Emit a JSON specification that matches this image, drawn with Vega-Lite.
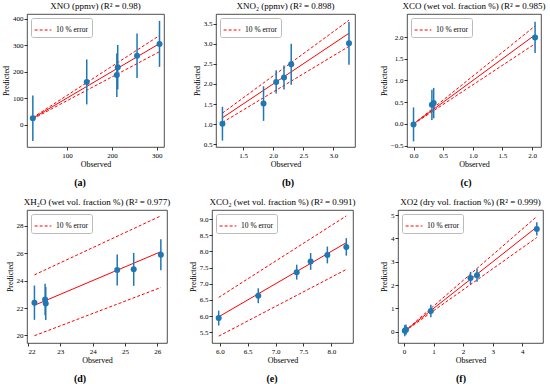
{
  "$schema": "https://vega.github.io/schema/vega-lite/v6.json",
  "padding": {"left": 2, "top": 1, "right": 2, "bottom": 0},
  "spacing": 9,
  "resolve": {"scale": {"color": "independent"}, "legend": {"color": "independent"}},
  "config": {
    "font": "Liberation Serif",
    "view": {"stroke": "#222", "strokeWidth": 0.8},
    "axis": {"grid": false, "domain": false, "tickColor": "#000", "tickSize": 3, "tickWidth": 0.8, "labelFontSize": 7, "labelColor": "#000", "titleFontSize": 8, "titleFontWeight": "normal", "titleColor": "#000", "labelPadding": 1, "titlePadding": 2, "labelFont": "Liberation Serif", "titleFont": "Liberation Serif"},
    "title": {"font": "Liberation Serif", "fontSize": 9, "fontWeight": "normal", "color": "#000", "offset": 3, "frame": "group"},
    "legend": {"orient": "top-left", "offset": 4, "padding": 3, "fillColor": "white", "strokeColor": "#bbb", "cornerRadius": 2, "symbolType": "stroke", "symbolDash": [3, 2], "symbolStrokeWidth": 1, "symbolSize": 280, "labelFont": "Liberation Serif", "labelFontSize": 7.5, "labelColor": "#000", "title": null}
  },
  "vconcat": [
    {
      "hconcat": [
        {
          "width": 137, "height": 133,
          "title": {"text": "XNO (ppmv) (R² = 0.98)"},
          "data": {"values": [
            {"s": "up", "obs": 24, "y": 26.4}, {"s": "up", "obs": 306, "y": 336.6},
            {"s": "lo", "obs": 24, "y": 21.6}, {"s": "lo", "obs": 306, "y": 275.4},
            {"s": "fit", "obs": 24, "y": 24}, {"s": "fit", "obs": 306, "y": 306},
            {"s": "pt", "obs": 24, "y": 24, "err": 86},
            {"s": "pt", "obs": 144, "y": 161, "err": 85},
            {"s": "pt", "obs": 211, "y": 187, "err": 83},
            {"s": "pt", "obs": 213, "y": 217, "err": 84},
            {"s": "pt", "obs": 256, "y": 260, "err": 84},
            {"s": "pt", "obs": 306, "y": 305, "err": 87}
          ]},
          "encoding": {
            "x": {"field": "obs", "type": "quantitative", "title": "Observed", "scale": {"domain": [11, 316], "nice": false, "zero": false}, "axis": {"values": [100, 200, 300]}},
            "y": {"field": "y", "type": "quantitative", "title": "Predicted", "scale": {"domain": [-85, 418], "nice": false, "zero": false}, "axis": {"values": [0, 100, 200, 300, 400]}}
          },
          "layer": [
            {"transform": [{"filter": "datum.s === 'up' || datum.s === 'lo'"}], "mark": {"type": "line", "strokeDash": [3, 2], "strokeWidth": 1}, "encoding": {"detail": {"field": "s"}, "color": {"datum": "10 % error", "scale": {"domain": ["10 % error"], "range": ["#ff0000"]}}}},
            {"transform": [{"filter": "datum.s === 'fit'"}], "mark": {"type": "line", "color": "#ff0000", "strokeWidth": 1}},
            {"transform": [{"filter": "datum.s === 'pt'"}], "mark": {"type": "errorbar", "color": "#1f77b4", "thickness": 1.5}, "encoding": {"yError": {"field": "err"}}},
            {"transform": [{"filter": "datum.s === 'pt'"}], "mark": {"type": "point", "filled": true, "color": "#1f77b4", "size": 36, "opacity": 1}}
          ]
        },
        {
          "width": 139, "height": 133,
          "title": {"text": "XNO₂ (ppmv) (R² = 0.898)"},
          "data": {"values": [
            {"s": "up", "obs": 1.157, "y": 1.273}, {"s": "up", "obs": 3.26, "y": 3.586},
            {"s": "lo", "obs": 1.157, "y": 1.041}, {"s": "lo", "obs": 3.26, "y": 2.934},
            {"s": "fit", "obs": 1.157, "y": 1.157}, {"s": "fit", "obs": 3.26, "y": 3.26},
            {"s": "pt", "obs": 1.157, "y": 1.01, "err": 0.42},
            {"s": "pt", "obs": 1.84, "y": 1.51, "err": 0.43},
            {"s": "pt", "obs": 2.05, "y": 2.05, "err": 0.29},
            {"s": "pt", "obs": 2.18, "y": 2.16, "err": 0.3},
            {"s": "pt", "obs": 2.3, "y": 2.49, "err": 0.51},
            {"s": "pt", "obs": 3.26, "y": 3.01, "err": 0.53}
          ]},
          "encoding": {
            "x": {"field": "obs", "type": "quantitative", "title": "Observed", "scale": {"domain": [1.05, 3.36], "nice": false, "zero": false}, "axis": {"values": [1.5, 2, 2.5, 3], "format": ".1f"}},
            "y": {"field": "y", "type": "quantitative", "title": "Predicted", "scale": {"domain": [0.43, 3.74], "nice": false, "zero": false}, "axis": {"values": [0.5, 1, 1.5, 2, 2.5, 3, 3.5], "format": ".1f"}}
          },
          "layer": [
            {"transform": [{"filter": "datum.s === 'up' || datum.s === 'lo'"}], "mark": {"type": "line", "strokeDash": [3, 2], "strokeWidth": 1}, "encoding": {"detail": {"field": "s"}, "color": {"datum": "10 % error", "scale": {"domain": ["10 % error"], "range": ["#ff0000"]}}}},
            {"transform": [{"filter": "datum.s === 'fit'"}], "mark": {"type": "line", "color": "#ff0000", "strokeWidth": 1}},
            {"transform": [{"filter": "datum.s === 'pt'"}], "mark": {"type": "errorbar", "color": "#1f77b4", "thickness": 1.5}, "encoding": {"yError": {"field": "err"}}},
            {"transform": [{"filter": "datum.s === 'pt'"}], "mark": {"type": "point", "filled": true, "color": "#1f77b4", "size": 36, "opacity": 1}}
          ]
        },
        {
          "width": 134, "height": 133,
          "title": {"text": "XCO (wet vol. fraction %) (R² = 0.985)"},
          "data": {"values": [
            {"s": "up", "obs": 0, "y": 0}, {"s": "up", "obs": 2.05, "y": 2.255},
            {"s": "lo", "obs": 0, "y": 0}, {"s": "lo", "obs": 2.05, "y": 1.845},
            {"s": "fit", "obs": 0, "y": 0}, {"s": "fit", "obs": 2.05, "y": 2.05},
            {"s": "pt", "obs": 0, "y": -0.01, "err": 0.39},
            {"s": "pt", "obs": 0.31, "y": 0.44, "err": 0.35},
            {"s": "pt", "obs": 0.34, "y": 0.48, "err": 0.35},
            {"s": "pt", "obs": 2.05, "y": 1.99, "err": 0.36}
          ]},
          "encoding": {
            "x": {"field": "obs", "type": "quantitative", "title": "Observed", "scale": {"domain": [-0.11, 2.15], "nice": false, "zero": false}, "axis": {"values": [0, 0.5, 1, 1.5, 2], "format": ".1f"}},
            "y": {"field": "y", "type": "quantitative", "title": "Predicted", "scale": {"domain": [-0.53, 2.53], "nice": false, "zero": false}, "axis": {"values": [-0.5, 0, 0.5, 1, 1.5, 2], "format": ".1f"}}
          },
          "layer": [
            {"transform": [{"filter": "datum.s === 'up' || datum.s === 'lo'"}], "mark": {"type": "line", "strokeDash": [3, 2], "strokeWidth": 1}, "encoding": {"detail": {"field": "s"}, "color": {"datum": "10 % error", "scale": {"domain": ["10 % error"], "range": ["#ff0000"]}}}},
            {"transform": [{"filter": "datum.s === 'fit'"}], "mark": {"type": "line", "color": "#ff0000", "strokeWidth": 1}},
            {"transform": [{"filter": "datum.s === 'pt'"}], "mark": {"type": "errorbar", "color": "#1f77b4", "thickness": 1.5}, "encoding": {"yError": {"field": "err"}}},
            {"transform": [{"filter": "datum.s === 'pt'"}], "mark": {"type": "point", "filled": true, "color": "#1f77b4", "size": 36, "opacity": 1}}
          ]
        }
      ],
      "spacing": 52,
      "bounds": "flush",
      "resolve": {"scale": {"color": "independent"}, "legend": {"color": "independent"}}
    },
    {
      "hconcat": [
        {"width": 106, "height": 10, "view": {"stroke": null}, "data": {"values": [{"label": "(a)"}]}, "mark": {"type": "text", "fontSize": 10, "fontWeight": "bold", "font": "Liberation Serif", "color": "#000"}, "encoding": {"text": {"field": "label"}}},
        {"width": 290, "height": 10, "view": {"stroke": null}, "data": {"values": [{"label": "(b)"}]}, "mark": {"type": "text", "fontSize": 10, "fontWeight": "bold", "font": "Liberation Serif", "color": "#000"}, "encoding": {"text": {"field": "label"}}},
        {"width": 46, "height": 10, "view": {"stroke": null}, "data": {"values": [{"label": "(c)"}]}, "mark": {"type": "text", "fontSize": 10, "fontWeight": "bold", "font": "Liberation Serif", "color": "#000"}, "encoding": {"text": {"field": "label"}}}
      ],
      "spacing": 10,
      "bounds": "flush"
    },
    {
      "hconcat": [
        {
          "width": 140, "height": 133,
          "title": {"text": "XH₂O (wet vol. fraction %) (R² = 0.977)"},
          "data": {"values": [
            {"s": "up", "obs": 22.2, "y": 24.42}, {"s": "up", "obs": 26.11, "y": 28.72},
            {"s": "lo", "obs": 22.2, "y": 19.98}, {"s": "lo", "obs": 26.11, "y": 23.5},
            {"s": "fit", "obs": 22.2, "y": 22.2}, {"s": "fit", "obs": 26.11, "y": 26.11},
            {"s": "pt", "obs": 22.2, "y": 22.39, "err": 1.25},
            {"s": "pt", "obs": 22.53, "y": 22.62, "err": 1.15},
            {"s": "pt", "obs": 22.55, "y": 22.33, "err": 1.2},
            {"s": "pt", "obs": 24.76, "y": 24.78, "err": 1.13},
            {"s": "pt", "obs": 25.27, "y": 24.82, "err": 1.2},
            {"s": "pt", "obs": 26.11, "y": 25.88, "err": 1.13}
          ]},
          "encoding": {
            "x": {"field": "obs", "type": "quantitative", "title": "Observed", "scale": {"domain": [21.97, 26.3], "nice": false, "zero": false}, "axis": {"values": [22, 23, 24, 25, 26]}},
            "y": {"field": "y", "type": "quantitative", "title": "Predicted", "scale": {"domain": [19.45, 29.15], "nice": false, "zero": false}, "axis": {"values": [20, 22, 24, 26, 28]}}
          },
          "layer": [
            {"transform": [{"filter": "datum.s === 'up' || datum.s === 'lo'"}], "mark": {"type": "line", "strokeDash": [3, 2], "strokeWidth": 1}, "encoding": {"detail": {"field": "s"}, "color": {"datum": "10 % error", "scale": {"domain": ["10 % error"], "range": ["#ff0000"]}}}},
            {"transform": [{"filter": "datum.s === 'fit'"}], "mark": {"type": "line", "color": "#ff0000", "strokeWidth": 1}},
            {"transform": [{"filter": "datum.s === 'pt'"}], "mark": {"type": "errorbar", "color": "#1f77b4", "thickness": 1.5}, "encoding": {"yError": {"field": "err"}}},
            {"transform": [{"filter": "datum.s === 'pt'"}], "mark": {"type": "point", "filled": true, "color": "#1f77b4", "size": 36, "opacity": 1}}
          ]
        },
        {
          "width": 141, "height": 133,
          "title": {"text": "XCO₂ (wet vol. fraction %) (R² = 0.991)"},
          "data": {"values": [
            {"s": "up", "obs": 5.98, "y": 6.578}, {"s": "up", "obs": 8.27, "y": 9.097},
            {"s": "lo", "obs": 5.98, "y": 5.382}, {"s": "lo", "obs": 8.27, "y": 7.443},
            {"s": "fit", "obs": 5.98, "y": 5.98}, {"s": "fit", "obs": 8.27, "y": 8.27},
            {"s": "pt", "obs": 5.98, "y": 5.94, "err": 0.23},
            {"s": "pt", "obs": 6.69, "y": 6.63, "err": 0.23},
            {"s": "pt", "obs": 7.38, "y": 7.36, "err": 0.23},
            {"s": "pt", "obs": 7.63, "y": 7.69, "err": 0.26},
            {"s": "pt", "obs": 7.93, "y": 7.89, "err": 0.26},
            {"s": "pt", "obs": 8.27, "y": 8.14, "err": 0.27}
          ]},
          "encoding": {
            "x": {"field": "obs", "type": "quantitative", "title": "Observed", "scale": {"domain": [5.86, 8.39], "nice": false, "zero": false}, "axis": {"values": [6, 6.5, 7, 7.5, 8], "format": ".1f"}},
            "y": {"field": "y", "type": "quantitative", "title": "Predicted", "scale": {"domain": [5.17, 9.28], "nice": false, "zero": false}, "axis": {"values": [5.5, 6, 6.5, 7, 7.5, 8, 8.5, 9], "format": ".1f"}}
          },
          "layer": [
            {"transform": [{"filter": "datum.s === 'up' || datum.s === 'lo'"}], "mark": {"type": "line", "strokeDash": [3, 2], "strokeWidth": 1}, "encoding": {"detail": {"field": "s"}, "color": {"datum": "10 % error", "scale": {"domain": ["10 % error"], "range": ["#ff0000"]}}}},
            {"transform": [{"filter": "datum.s === 'fit'"}], "mark": {"type": "line", "color": "#ff0000", "strokeWidth": 1}},
            {"transform": [{"filter": "datum.s === 'pt'"}], "mark": {"type": "errorbar", "color": "#1f77b4", "thickness": 1.5}, "encoding": {"yError": {"field": "err"}}},
            {"transform": [{"filter": "datum.s === 'pt'"}], "mark": {"type": "point", "filled": true, "color": "#1f77b4", "size": 36, "opacity": 1}}
          ]
        },
        {
          "width": 145, "height": 133,
          "title": {"text": "XO2 (dry vol. fraction %) (R² = 0.999)"},
          "data": {"values": [
            {"s": "up", "obs": 0.03, "y": 0.033}, {"s": "up", "obs": 4.49, "y": 4.939},
            {"s": "lo", "obs": 0.03, "y": 0.027}, {"s": "lo", "obs": 4.49, "y": 4.041},
            {"s": "fit", "obs": 0.03, "y": 0.03}, {"s": "fit", "obs": 4.49, "y": 4.49},
            {"s": "pt", "obs": 0.03, "y": 0.05, "err": 0.24},
            {"s": "pt", "obs": 0.07, "y": 0.09, "err": 0.22},
            {"s": "pt", "obs": 0.91, "y": 0.89, "err": 0.27},
            {"s": "pt", "obs": 2.25, "y": 2.31, "err": 0.26},
            {"s": "pt", "obs": 2.47, "y": 2.42, "err": 0.28},
            {"s": "pt", "obs": 4.49, "y": 4.41, "err": 0.28}
          ]},
          "encoding": {
            "x": {"field": "obs", "type": "quantitative", "title": "Observed", "scale": {"domain": [-0.2, 4.7], "nice": false, "zero": false}, "axis": {"values": [0, 1, 2, 3, 4]}},
            "y": {"field": "y", "type": "quantitative", "title": "Predicted", "scale": {"domain": [-0.48, 5.22], "nice": false, "zero": false}, "axis": {"values": [0, 1, 2, 3, 4, 5]}}
          },
          "layer": [
            {"transform": [{"filter": "datum.s === 'up' || datum.s === 'lo'"}], "mark": {"type": "line", "strokeDash": [3, 2], "strokeWidth": 1}, "encoding": {"detail": {"field": "s"}, "color": {"datum": "10 % error", "scale": {"domain": ["10 % error"], "range": ["#ff0000"]}}}},
            {"transform": [{"filter": "datum.s === 'fit'"}], "mark": {"type": "line", "color": "#ff0000", "strokeWidth": 1}},
            {"transform": [{"filter": "datum.s === 'pt'"}], "mark": {"type": "errorbar", "color": "#1f77b4", "thickness": 1.5}, "encoding": {"yError": {"field": "err"}}},
            {"transform": [{"filter": "datum.s === 'pt'"}], "mark": {"type": "point", "filled": true, "color": "#1f77b4", "size": 36, "opacity": 1}}
          ]
        }
      ],
      "spacing": 45,
      "bounds": "flush",
      "resolve": {"scale": {"color": "independent"}, "legend": {"color": "independent"}}
    },
    {
      "hconcat": [
        {"width": 106, "height": 10, "view": {"stroke": null}, "data": {"values": [{"label": "(d)"}]}, "mark": {"type": "text", "fontSize": 10, "fontWeight": "bold", "font": "Liberation Serif", "color": "#000"}, "encoding": {"text": {"field": "label"}}},
        {"width": 258, "height": 10, "view": {"stroke": null}, "data": {"values": [{"label": "(e)"}]}, "mark": {"type": "text", "fontSize": 10, "fontWeight": "bold", "font": "Liberation Serif", "color": "#000"}, "encoding": {"text": {"field": "label"}}},
        {"width": 100, "height": 10, "view": {"stroke": null}, "data": {"values": [{"label": "(f)"}]}, "mark": {"type": "text", "fontSize": 10, "fontWeight": "bold", "font": "Liberation Serif", "color": "#000"}, "encoding": {"text": {"field": "label"}}}
      ],
      "spacing": 10,
      "bounds": "flush"
    }
  ]
}
